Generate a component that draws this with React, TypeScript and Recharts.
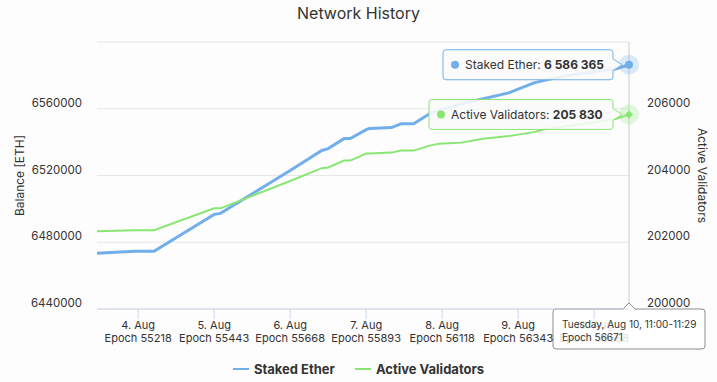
import React from "react"
import {
  LineChart,
  Line,
  XAxis,
  YAxis,
  CartesianGrid,
  ReferenceLine,
  Legend,
  LabelList,
} from "recharts"

// hours since Aug 3, 11:00
const hours = [0, 6, 12, 18, 37, 39, 61, 71, 73, 78, 80, 85, 86, 93, 96, 100, 105, 108, 115, 122, 130, 138, 142, 150, 158, 164, 168]
const stakedEther = [
  6473430, 6474030, 6474630, 6474630, 6496700, 6497300, 6523000, 6535000, 6536100, 6542100, 6542100, 6547500, 6548100,
  6548700, 6551000, 6551000, 6557000, 6559000, 6563000, 6566000, 6569500, 6575500, 6577300, 6580300, 6582500, 6584000,
  6586365,
]
const activeValidators = [
  202328, 202343, 202358, 202358, 203015, 203015, 203836, 204220, 204239, 204448, 204448, 204657, 204657, 204686, 204746,
  204746, 204895, 204955, 204985, 205104, 205180, 205300, 205403, 205500, 205600, 205700, 205830,
]

const dayTicks = [13, 37, 61, 85, 109, 133, 157]
const dayLabels = ["4. Aug", "5. Aug", "6. Aug", "7. Aug", "8. Aug", "9. Aug", "10. Aug"]
const epochLabels = [55218, 55443, 55668, 55893, 56118, 56343, 56568]

const leftTicks = [6440000, 6480000, 6520000, 6560000, 6600000]
const rightTicks = [200000, 202000, 204000, 206000, 208000]

const hoverHeader = "Tuesday, Aug 10, 11:00-11:29"
const hoverEpoch = "Epoch 56671"

const BLUE = "#72afea"
const GREEN = "#88e672"
const FONT = "Inter, sans-serif"

const data = hours.map((h, i) => ({ h, staked: stakedEther[i], validators: activeValidators[i] }))
const last = data.length - 1

const fmt = (v: number) => String(v).replace(/\B(?=(\d{3})+(?!\d))/g, " ")

function calloutRight(left: number, top: number, w: number, h: number, tipX: number, tipY: number) {
  const r = 3
  const right = left + w
  const bottom = top + h
  return `M${left + r},${top} H${right - r} Q${right},${top} ${right},${top + r} V${tipY - 6} L${tipX},${tipY} L${right},${tipY + 6} V${bottom - r} Q${right},${bottom} ${right - r},${bottom} H${left + r} Q${left},${bottom} ${left},${bottom - r} V${top + r} Q${left},${top} ${left + r},${top} Z`
}

function calloutTop(left: number, top: number, w: number, h: number, tipX: number) {
  const r = 3
  const right = left + w
  const bottom = top + h
  return `M${left + r},${top} H${tipX - 6} L${tipX},${top - 6} L${tipX + 6},${top} H${right - r} Q${right},${top} ${right},${top + r} V${bottom - r} Q${right},${bottom} ${right - r},${bottom} H${left + r} Q${left},${bottom} ${left},${bottom - r} V${top + r} Q${left},${top} ${left + r},${top} Z`
}

const makeBox = (name: string, color: string, width: number) => (props: any) => {
  if (props.index !== last) return null
  const px = props.x ?? props.viewBox?.x
  const py = props.y ?? props.viewBox?.y
  const right = px - 16
  const left = right - width
  const top = py - 15
  return (
    <g>
      <path d={calloutRight(left, top, width, 30, px - 7, py)} fill="rgba(250,250,250,0.88)" stroke={color} strokeWidth={1} />
      <circle cx={left + 12} cy={py} r={4} fill={color} />
      <text x={left + 22} y={py + 4.5} fontFamily={FONT} fontSize={12} fill="#333">
        {name}: <tspan fontWeight={700}>{fmt(props.value)}</tspan>
      </text>
    </g>
  )
}

const blueDot = (props: any) => {
  if (props.index !== last) return <g key={props.index} />
  return (
    <g key={props.index}>
      <circle cx={props.cx} cy={props.cy} r={10} fill={BLUE} fillOpacity={0.25} />
      <circle cx={props.cx} cy={props.cy} r={4} fill={BLUE} />
    </g>
  )
}

const greenDot = (props: any) => {
  if (props.index !== last) return <g key={props.index} />
  const { cx, cy } = props
  return (
    <g key={props.index}>
      <circle cx={cx} cy={cy} r={10} fill={GREEN} fillOpacity={0.25} />
      <path d={`M${cx},${cy - 4} L${cx + 4},${cy} L${cx},${cy + 4} L${cx - 4},${cy} Z`} fill={GREEN} />
    </g>
  )
}

const DayTick = (props: any) => {
  const { x, y, payload } = props
  const i = dayTicks.indexOf(payload.value)
  // the last tick sits behind the hover box in the reference
  const op = i === dayTicks.length - 1 ? 0.15 : 1
  return (
    <g opacity={op}>
      <text x={x} y={y + 9.5} textAnchor="middle" fontFamily={FONT} fontSize={11} fill="#333">
        {dayLabels[i]}
      </text>
      <text x={x} y={y + 23} textAnchor="middle" fontFamily={FONT} fontSize={11} fill="#333">
        Epoch {epochLabels[i]}
      </text>
    </g>
  )
}

const LeftTick = (props: any) => {
  const { x, y, payload } = props
  if (payload.value === leftTicks[leftTicks.length - 1]) return <g />
  return (
    <text x={x} y={y - 2} textAnchor="end" fontFamily={FONT} fontSize={11.5} fill="#333">
      {payload.value}
    </text>
  )
}

const RightTick = (props: any) => {
  const { x, y, payload } = props
  if (payload.value === rightTicks[rightTicks.length - 1]) return <g />
  return (
    <text x={x} y={y - 2} textAnchor="start" fontFamily={FONT} fontSize={11.5} fill="#333">
      {payload.value}
    </text>
  )
}

const HoverLabel = (props: any) => {
  const vb = props.viewBox
  const cx = vb.x
  const top = vb.y + vb.height
  const w = 152
  const left = cx - w / 2
  return (
    <g>
      <path d={calloutTop(left, top, w, 40, cx)} fill="rgba(255,255,255,0.88)" stroke="#8c8c8c" strokeWidth={1} />
      <text x={left + 9} y={top + 18.5} fontFamily={FONT} fontSize={10} fill="#333">
        {hoverHeader}
      </text>
      <text x={left + 9} y={top + 32} fontFamily={FONT} fontSize={10} fill="#333">
        {hoverEpoch}
      </text>
    </g>
  )
}

const renderLegend = () => (
  <div
    style={{
      display: "flex",
      justifyContent: "center",
      alignItems: "center",
      height: 26,
      marginTop: 7,
      fontFamily: FONT,
      fontSize: 13,
      fontWeight: 700,
      color: "#333",
    }}
  >
    {[
      { name: "Staked Ether", color: BLUE },
      { name: "Active Validators", color: GREEN },
    ].map((s) => (
      <span key={s.name} style={{ display: "flex", alignItems: "center", margin: "0 10px" }}>
        <span style={{ width: 16, height: 2, background: s.color, marginRight: 5 }} />
        {s.name}
      </span>
    ))}
  </div>
)

export default function App() {
  return (
    <div style={{ position: "absolute", left: 0, top: 0, width: 717, height: 382, background: "#fdfdfd", fontFamily: FONT }}>
      <div
        style={{
          position: "absolute",
          top: 3,
          left: 0,
          width: 717,
          textAlign: "center",
          fontSize: 16,
          lineHeight: "20px",
          color: "#333",
        }}
      >
        Network History
      </div>
      <LineChart width={717} height={382} data={data} margin={{ top: 42, right: 0, bottom: 0, left: 0 }}>
        <CartesianGrid yAxisId="left" vertical={false} stroke="#e6e6e6" />
        <XAxis
          dataKey="h"
          type="number"
          domain={[0, 168]}
          ticks={dayTicks}
          interval={0}
          height={40}
          tick={<DayTick />}
          tickSize={10}
          tickMargin={0}
          stroke="#ccd6eb"
        />
        <YAxis
          yAxisId="left"
          width={97}
          domain={[leftTicks[0], leftTicks[leftTicks.length - 1]]}
          ticks={leftTicks}
          axisLine={false}
          tickLine={false}
          tickSize={0}
          tickMargin={15}
          tick={<LeftTick />}
          label={{
            content: (p: any) => (
              <text
                x={p.viewBox.x + 19}
                y={p.viewBox.y + p.viewBox.height / 2}
                transform={`rotate(-90 ${p.viewBox.x + 19} ${p.viewBox.y + p.viewBox.height / 2})`}
                textAnchor="middle"
                dominantBaseline="central"
                fontFamily={FONT}
                fontSize={12}
                fill="#333"
              >
                Balance [ETH]
              </text>
            ),
          }}
        />
        <YAxis
          yAxisId="right"
          orientation="right"
          width={88}
          domain={[rightTicks[0], rightTicks[rightTicks.length - 1]]}
          ticks={rightTicks}
          axisLine={false}
          tickLine={false}
          tickSize={0}
          tickMargin={18}
          tick={<RightTick />}
          label={{
            content: (p: any) => (
              <text
                x={p.viewBox.x + 73.5}
                y={p.viewBox.y + p.viewBox.height / 2}
                transform={`rotate(90 ${p.viewBox.x + 73.5} ${p.viewBox.y + p.viewBox.height / 2})`}
                textAnchor="middle"
                dominantBaseline="central"
                fontFamily={FONT}
                fontSize={12}
                fill="#333"
              >
                Active Validators
              </text>
            ),
          }}
        />
        <Legend verticalAlign="bottom" height={33} content={renderLegend} />
        <ReferenceLine yAxisId="left" x={168} stroke="#cccccc" label={<HoverLabel />} />
        <Line
          yAxisId="left"
          type="linear"
          dataKey="staked"
          stroke={BLUE}
          strokeWidth={3}
          dot={blueDot}
          isAnimationActive={false}
        >
          <LabelList dataKey="staked" content={makeBox("Staked Ether", BLUE, 170)} />
        </Line>
        <Line
          yAxisId="right"
          type="linear"
          dataKey="validators"
          stroke={GREEN}
          strokeWidth={2}
          dot={greenDot}
          isAnimationActive={false}
        >
          <LabelList dataKey="validators" content={makeBox("Active Validators", GREEN, 184)} />
        </Line>
      </LineChart>
    </div>
  )
}
